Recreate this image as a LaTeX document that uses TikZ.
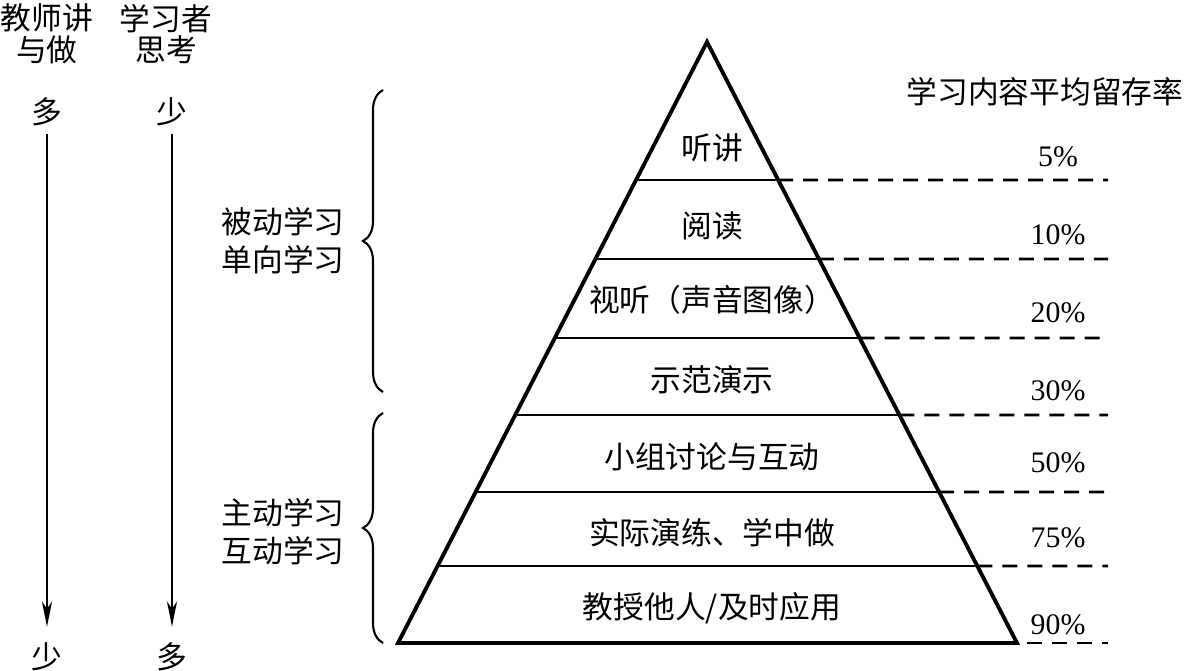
\documentclass[tikz,border=0pt]{standalone}
\usepackage{fontspec}
\setmainfont{Liberation Serif}
\newfontfamily\cjk{Noto Sans CJK SC}
\usetikzlibrary{positioning, calc, arrows.meta, decorations.pathreplacing}
\tikzset {
    >={Stealth[length=0.5cm, width=0.2cm, inset=0.14cm]},
    word/.style={font=\cjk\fontsize{17.5}{21.5}\selectfont, inner sep=1pt},
    rate/.style={font=\fontsize{17}{20}\selectfont, inner sep=1pt},
    edge line/.style={line width=2.2pt, line join=miter},
    level line/.style={line width=1.5pt},
    dash line/.style={line width=1.5pt, dash pattern=on 0.3cm off 0.2cm},
    group brace/.style={decorate, decoration={brace, amplitude=0.4cm}, line width=1.2pt}
}

\begin{document}
\begin{tikzpicture}[x=0.02cm, y=-0.02cm]
\useasboundingbox (0,0) rectangle (1186,671);

% two columns on the left
\node[word, align=center, font=\cjk\fontsize{17.5}{18}\selectfont] (teach) at (47,34) {教师讲\\与做};
\node[word, align=center, font=\cjk\fontsize{17.5}{18}\selectfont] (learn) at (166,34) {学习者\\思考};
\node[word] (tmore) at (47,112) {多};
\node[word] (lless) at (172,112) {少};
\node[word] (tless) at (47,657) {少};
\node[word] (lmore) at (172,657) {多};
\draw[->, line width=1.2pt, shorten <=3pt, shorten >=8pt] (tmore) -- (tless);
\draw[->, line width=1.2pt, shorten <=3pt, shorten >=8pt] (lless) -- (lmore);

% braces
\node[word, align=center] (passive) at (283,241) {被动学习\\单向学习};
\node[word, align=center] (active) at (283,532) {主动学习\\互动学习};
\draw[group brace] (383,392) -- (383,90);
\draw[group brace] (383,643) -- (383,413);

% pyramid
\coordinate (apex) at (707,42);
\coordinate (bl) at (398,643);
\coordinate (br) at (1017,643);
\draw[edge line] (apex) -- (bl) -- (br) -- cycle;
\foreach \y in {180,259,338,415,492,566} {
    \draw[level line] ($(apex)!{(\y-42)/601}!(bl)$) -- ($(apex)!{(\y-42)/601}!(br)$);
    \draw[dash line] ($(apex)!{(\y-42)/601}!(br)$) -- (1108,\y);
}
\draw[dash line] ($(br)+(10,0)$) -- (1108,643);

\foreach \n/\y/\t in {1/148/听讲, 2/226/阅读, 3/300/视听（声音图像）, 4/380/示范演示,
    5/457/小组讨论与互动, 6/533/实际演练、学中做, 7/608/{教授他人/及时应用}}
    \node[word] (l\n) at (712,\y) {\t};

% retention rates
\node[word] (title) at (1045,92) {学习内容平均留存率};
\foreach \n/\y/\t in {1/157/5, 2/235/10, 3/313/20, 4/391/30, 5/463/50, 6/538/75, 7/625/90}
    \node[rate] (p\n) at (1058,\y) {\t\%};

\end{tikzpicture}
\end{document}
